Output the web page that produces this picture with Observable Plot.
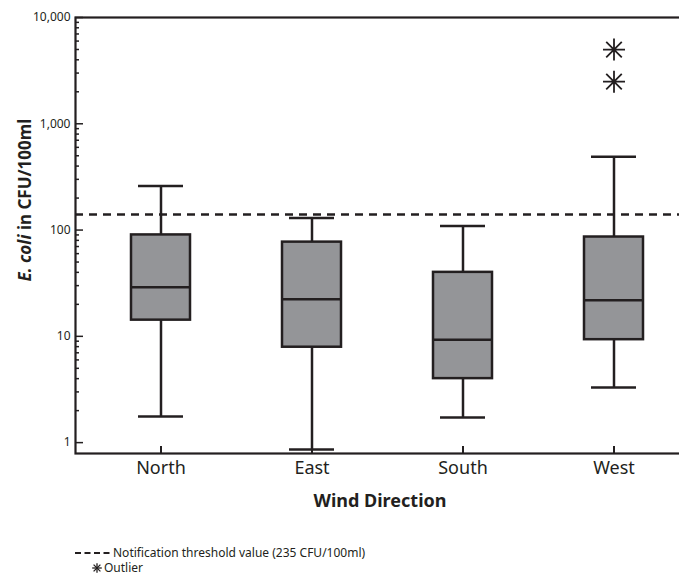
<!DOCTYPE html>
<html>
<head>
<meta charset="utf-8">
<script src="https://cdn.jsdelivr.net/npm/d3@7"></script>
<script src="https://cdn.jsdelivr.net/npm/@observablehq/plot@0.6"></script>
<style>
  html, body { margin: 0; padding: 0; background: #fff; overflow: hidden; }
  #wrap { position: relative; width: 679px; height: 581px; overflow: hidden; }
  .font { font-family: "Noto Sans", "Liberation Sans Narrow", "DejaVu Sans Condensed", sans-serif; font-stretch: condensed; color: #231f20; }
  #chart svg { max-width: none !important; font-stretch: condensed; }
  #legend { position: absolute; left: 75px; top: 545px; font-size: 12px; line-height: 15px; }
  #legend div { display: flex; align-items: center; white-space: nowrap; height: 15px; }
  #legend span { display: inline-block; line-height: 14px; height: 14px; overflow: visible; }
</style>
</head>
<body>
<div id="wrap" class="font">
  <div id="chart"></div>
  <div id="legend"></div>
</div>
<script>
// ---- data ----
const directions = ["North", "East", "South", "West"];
const whiskerLow  = [1.76, 0.86, 1.72, 3.3];
const quartile1   = [14.2, 7.9, 4.0, 9.3];
const medians     = [29, 22.3, 9.3, 21.9];
const quartile3   = [90, 77, 40, 86];
const whiskerHigh = [260, 130, 109, 489];
const outlierDirections = ["West", "West"];
const outlierValues = [4990, 2490];
const thresholdLine = [140];
const majorTicks = [1, 10, 100, 1000, 10000];
const minorTicks = [2,3,4,5,6,7,8,9,20,30,40,50,60,70,80,90,200,300,400,500,600,700,800,900,2000,3000,4000,5000,6000,7000,8000,9000];
const xLabel = "Wind Direction";
const yLabelItalic = "E. coli";
const yLabelRest = " in CFU/100ml";
const legendThreshold = "Notification threshold value (235 CFU/100ml)";
const legendOutlier = "Outlier";

const rows = directions.map((d, i) => ({
  dir: d, lo: whiskerLow[i], q1: quartile1[i], med: medians[i], q3: quartile3[i], hi: whiskerHigh[i]
}));
const outliers = outlierDirections.map((d, i) => ({dir: d, v: outlierValues[i]}));

const INK = "#231f20";
const FONT = '"Noto Sans", "Liberation Sans Narrow", "DejaVu Sans Condensed", sans-serif';

const star8 = {
  draw(context, size) {
    const r = Math.sqrt(size / Math.PI);
    for (let k = 0; k < 4; k++) {
      const a = k * Math.PI / 4;
      const c = Math.cos(a) * r, s = Math.sin(a) * r;
      context.moveTo(c, s);
      context.lineTo(-c, -s);
    }
  }
};

const chart = Plot.plot({
  width: 690,
  height: 520,
  marginLeft: 75,
  marginRight: 0,
  marginTop: 17,
  marginBottom: 67,
  style: {fontFamily: FONT, fontSize: "12px", color: INK, background: "white", maxWidth: "none"},
  x: {type: "band", domain: directions, range: [84.5, 688.5], paddingInner: 0.61, paddingOuter: 0.305, axis: null},
  y: {type: "log", domain: [0.79, 10000], axis: null},
  marks: [
    Plot.ruleY(thresholdLine, {stroke: INK, strokeWidth: 2.5, strokeDasharray: "8,6"}),
    Plot.ruleX(rows, {x: "dir", y1: "lo", y2: "hi", stroke: INK, strokeWidth: 2.5}),
    Plot.tickY(rows, {x: "dir", y: "lo", stroke: INK, strokeWidth: 2.5, insetLeft: 7, insetRight: 7}),
    Plot.tickY(rows, {x: "dir", y: "hi", stroke: INK, strokeWidth: 2.5, insetLeft: 7, insetRight: 7}),
    Plot.barY(rows, {x: "dir", y1: "q1", y2: "q3", fill: "#949598", stroke: INK, strokeWidth: 2.5}),
    Plot.tickY(rows, {x: "dir", y: "med", stroke: INK, strokeWidth: 2.5}),
    Plot.dot(outliers, {x: "dir", y: "v", symbol: star8, r: 11, stroke: INK, strokeWidth: 1.8}),
    Plot.axisY({ticks: majorTicks, tickSize: -8, tickPadding: 13, tickFormat: d3.format(","), stroke: INK, strokeWidth: 1.5, fill: INK, fontSize: 12}),
    Plot.axisY({ticks: minorTicks, tickSize: -4, text: null, stroke: INK, strokeWidth: 1.5, label: null}),
    Plot.axisX({tickSize: -7, tickPadding: 15, stroke: INK, strokeWidth: 2, fill: INK, fontSize: 18, label: null}),
    Plot.frame({stroke: INK, strokeWidth: 2.2})
  ]
});
chart.style.maxWidth = "none";
document.getElementById("chart").appendChild(chart);

const svg = d3.select(chart);
const yl = svg.append("text")
  .attr("transform", "translate(31,200) rotate(-90)")
  .attr("text-anchor", "middle")
  .attr("font-family", FONT)
  .attr("font-weight", "bold")
  .attr("font-size", 17)
  .attr("fill", INK);
yl.append("tspan").attr("font-style", "italic").text(yLabelItalic);
yl.append("tspan").text(yLabelRest);

svg.append("text")
  .attr("x", 380).attr("y", 507)
  .attr("text-anchor", "middle")
  .attr("font-family", FONT)
  .attr("font-weight", "bold")
  .attr("font-size", 18)
  .attr("fill", INK)
  .text(xLabel);

// legend
const legend = d3.select("#legend");
const row1 = legend.append("div");
const s1 = row1.append("svg").attr("width", 38).attr("height", 10);
s1.append("line").attr("x1", 0).attr("x2", 36).attr("y1", 5).attr("y2", 5)
  .attr("stroke", INK).attr("stroke-width", 2).attr("stroke-dasharray", "6,3.5");
row1.append("span").text(legendThreshold);
const row2 = legend.append("div").style("margin-left", "17px");
const s2 = row2.append("svg").attr("width", 12).attr("height", 12);
const g = s2.append("g").attr("transform", "translate(5,6)");
for (let k = 0; k < 4; k++) {
  const a = k * Math.PI / 4, r = 4.8;
  g.append("line").attr("x1", Math.cos(a) * r).attr("y1", Math.sin(a) * r)
    .attr("x2", -Math.cos(a) * r).attr("y2", -Math.sin(a) * r)
    .attr("stroke", INK).attr("stroke-width", 1.3);
}
row2.append("span").text(legendOutlier);
</script>
</body>
</html>
